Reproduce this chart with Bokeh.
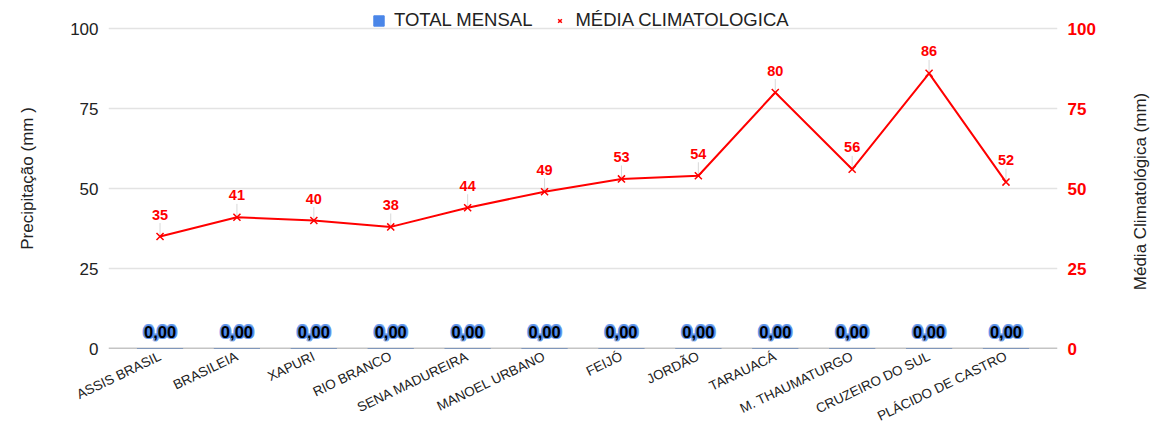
import math
from bokeh.plotting import figure
from bokeh.layouts import row
from bokeh.models import (Range1d, LinearAxis, FixedTicker, Legend, LegendItem, Span, ColumnDataSource)
from bokeh.core.properties import value
from bokeh.embed import file_html
from bokeh.resources import INLINE

stations = ["ASSIS BRASIL", "BRASILEIA", "XAPURI", "RIO BRANCO", "SENA MADUREIRA",
            "MANOEL URBANO", "FEIJÓ", "JORDÃO", "TARAUACÁ", "M. THAUMATURGO",
            "CRUZEIRO DO SUL", "PLÁCIDO DE CASTRO"]
total_mensal = [0, 0, 0, 0, 0, 0, 0, 0, 0, 0, 0, 0]
media_climatologica = [35, 41, 40, 38, 44, 49, 53, 54, 80, 56, 86, 52]
y_ticks = [0, 25, 50, 75, 100]
left_title = "Precipitação (mm )"
right_title = "Média Climatológica (mm)"

FONT = "Liberation Sans"
RED = "#ff0000"
BLUE = "#4a86e8"
Y_TOP = 106.25  # headroom above 100 for the legend row
H = 425

xs = list(range(len(stations)))
src = ColumnDataSource(dict(
    x=xs,
    total=total_mensal,
    total_lbl=[f"{v:.2f}".replace(".", ",") for v in total_mensal],
    media=media_climatologica,
    media_lbl=[str(v) for v in media_climatologica],
    lead_top=[v + 4.2 for v in media_climatologica],
))

p = figure(frame_width=949, frame_height=340, output_backend="svg", toolbar_location=None,
           x_range=Range1d(-0.67, len(stations) - 0.33), y_range=Range1d(0, Y_TOP),
           min_border_left=108, min_border_right=60, min_border_top=8, min_border_bottom=77)
p.outline_line_color = None
p.extra_y_ranges = {"right": Range1d(0, Y_TOP)}

# grid
p.xgrid.grid_line_color = None
p.ygrid.ticker = FixedTicker(ticks=y_ticks)
p.ygrid.grid_line_color = "#e3e3e3"
p.ygrid.grid_line_width = 1.5

# x axis
p.xaxis.ticker = FixedTicker(ticks=xs)
p.xaxis.major_label_overrides = {i: s for i, s in enumerate(stations)}
p.xaxis.major_label_orientation = math.pi / 7
p.xaxis.axis_line_color = None
p.xaxis.major_tick_line_color = None
p.xaxis.minor_tick_line_color = None
p.xaxis.major_tick_out = 0
p.xaxis.major_label_text_font = FONT
p.xaxis.major_label_text_font_size = "13.5px"
p.xaxis.major_label_text_color = "#222222"
p.xaxis.major_label_standoff = 7

# left axis
p.yaxis.ticker = FixedTicker(ticks=y_ticks)
p.yaxis.axis_line_color = None
p.yaxis.major_tick_line_color = None
p.yaxis.minor_tick_line_color = None
p.yaxis.major_tick_out = 0
p.yaxis.major_label_text_font = FONT
p.yaxis.major_label_text_font_size = "17px"
p.yaxis.major_label_text_color = "#222222"
p.yaxis.major_label_standoff = 10
p.yaxis.axis_label = left_title
p.yaxis.axis_label_text_font = FONT
p.yaxis.axis_label_text_font_size = "17px"
p.yaxis.axis_label_text_font_style = "normal"
p.yaxis.axis_label_text_color = "#222222"
p.yaxis.axis_label_standoff = 30

# right axis
ra = LinearAxis(y_range_name="right", ticker=FixedTicker(ticks=y_ticks))
ra.axis_line_color = None
ra.major_tick_line_color = None
ra.minor_tick_line_color = None
ra.major_tick_out = 0
ra.major_label_text_font = FONT
ra.major_label_text_font_size = "17px"
ra.major_label_text_font_style = "bold"
ra.major_label_text_color = RED
ra.major_label_standoff = 10
p.add_layout(ra, "right")

# zero line
p.add_layout(Span(location=0, dimension="width", line_color="#8a8a8a", line_width=1.5))

# bars (zero values)
bars = p.vbar(x="x", top="total", width=0.6, color=BLUE, source=src)

# bar labels with blue glow
for dx, dy in [(-1.6, 0), (1.6, 0), (0, -1.6), (0, 1.6), (-1.2, -1.2), (1.2, 1.2), (-1.2, 1.2), (1.2, -1.2), (-2.2, 0), (2.2, 0)]:
    p.text(x="x", y="total", text="total_lbl", source=src, x_offset=dx, y_offset=-17 + dy,
           text_align="center", text_baseline="middle", text_font=value(FONT),
           text_font_size="16.5px", text_font_style="bold", text_color=BLUE, text_alpha=0.6)
p.text(x="x", y="total", text="total_lbl", source=src, y_offset=-17,
       text_align="center", text_baseline="middle", text_font=value(FONT),
       text_font_size="16.5px", text_font_style="bold", text_color="#000000")

# leader lines
p.segment(x0="x", y0="media", x1="x", y1="lead_top", source=src, line_color="#d8d8d8", line_width=1,
          y_range_name="right")

# line + markers
ln = p.line(x="x", y="media", source=src, line_color=RED, line_width=2, y_range_name="right")
mk = p.scatter(x="x", y="media", source=src, marker="x", size=10, line_color=RED, line_width=1.5,
               y_range_name="right")

p.text(x="x", y="media", text="media_lbl", source=src, y_offset=-22, y_range_name="right",
       text_align="center", text_baseline="middle", text_font=value(FONT),
       text_font_size="14.5px", text_font_style="bold", text_color=RED)

legend = Legend(items=[LegendItem(label="TOTAL MENSAL", renderers=[bars]),
                       LegendItem(label="MÉDIA CLIMATOLOGICA", renderers=[mk])],
                orientation="horizontal", location=(264, 317), margin=0, padding=0,
                spacing=21, glyph_width=13, glyph_height=13, label_height=18, label_standoff=9,
                label_text_font=FONT, label_text_font_size="18.5px", label_text_color="#222222",
                border_line_color=None, background_fill_alpha=0)
p.add_layout(legend, "center")

# right-hand title strip (reads bottom-to-top, like the reference)
p2 = figure(frame_width=40, frame_height=H, output_backend="svg", toolbar_location=None,
            x_range=Range1d(0, 40), y_range=Range1d(0, H),
            min_border_left=0, min_border_right=0, min_border_top=0, min_border_bottom=0)
p2.axis.visible = False
p2.grid.visible = False
p2.outline_line_color = None
p2.text(x=[23], y=[H - 183], text=[right_title], angle=math.pi / 2,
        text_align="center", text_baseline="middle", text_font=value(FONT),
        text_font_size="17px", text_color="#222222")

layout = row(p, p2)
open("out.html", "w").write(file_html(layout, INLINE))
